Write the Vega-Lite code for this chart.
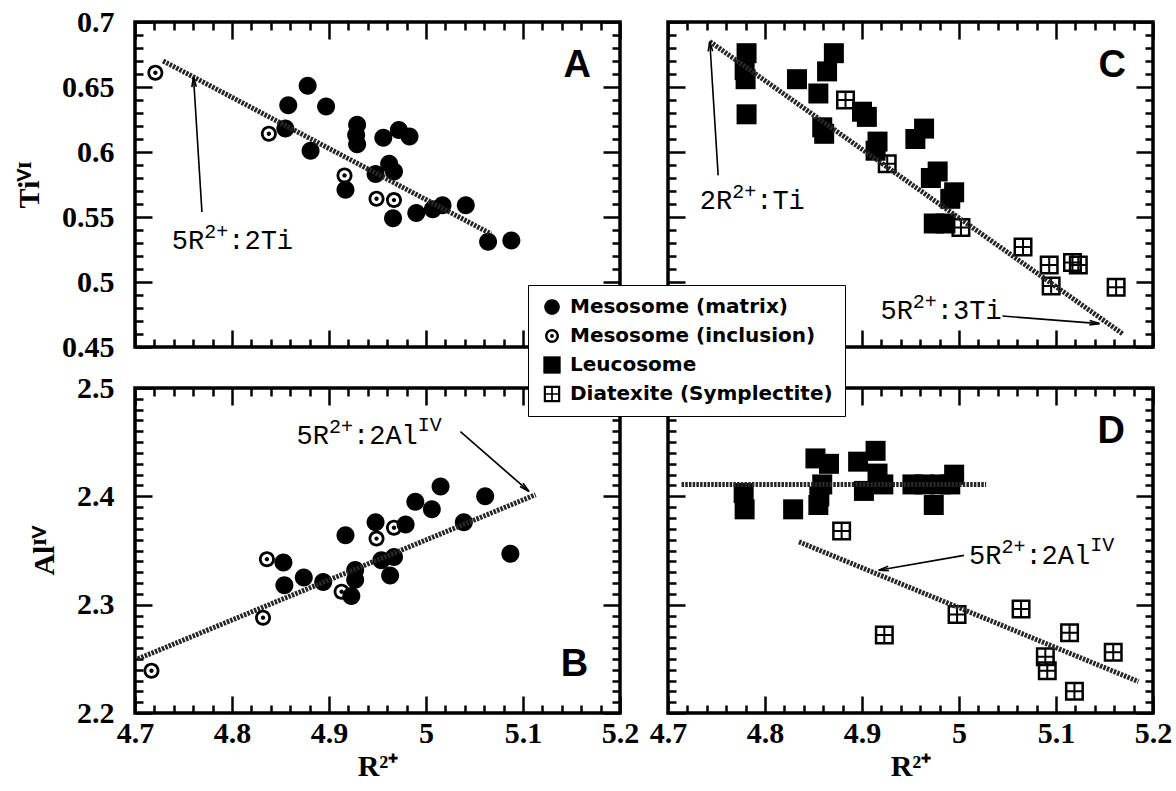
{
"$schema": "https://vega.github.io/schema/vega-lite/v6.json",
"background": "white",
"padding": {"left": 12, "top": 5, "right": 5, "bottom": 5},
"datasets": {
"pts": [
{"p":"A","t":"Mesosome (matrix)","x":4.878,"y":0.651},{"p":"A","t":"Mesosome (matrix)","x":4.858,"y":0.636},{"p":"A","t":"Mesosome (matrix)","x":4.897,"y":0.635},{"p":"A","t":"Mesosome (matrix)","x":4.855,"y":0.618},{"p":"A","t":"Mesosome (matrix)","x":4.929,"y":0.621},{"p":"A","t":"Mesosome (matrix)","x":4.928,"y":0.613},{"p":"A","t":"Mesosome (matrix)","x":4.929,"y":0.606},{"p":"A","t":"Mesosome (matrix)","x":4.956,"y":0.611},{"p":"A","t":"Mesosome (matrix)","x":4.972,"y":0.617},{"p":"A","t":"Mesosome (matrix)","x":4.983,"y":0.612},{"p":"A","t":"Mesosome (matrix)","x":4.881,"y":0.601},{"p":"A","t":"Mesosome (matrix)","x":4.962,"y":0.591},{"p":"A","t":"Mesosome (matrix)","x":4.967,"y":0.585},{"p":"A","t":"Mesosome (matrix)","x":4.948,"y":0.583},{"p":"A","t":"Mesosome (matrix)","x":4.917,"y":0.571},{"p":"A","t":"Mesosome (matrix)","x":4.966,"y":0.549},{"p":"A","t":"Mesosome (matrix)","x":4.990,"y":0.553},{"p":"A","t":"Mesosome (matrix)","x":5.007,"y":0.556},{"p":"A","t":"Mesosome (matrix)","x":5.017,"y":0.559},{"p":"A","t":"Mesosome (matrix)","x":5.041,"y":0.559},{"p":"A","t":"Mesosome (matrix)","x":5.064,"y":0.531},{"p":"A","t":"Mesosome (matrix)","x":5.088,"y":0.532},
{"p":"A","t":"Mesosome (inclusion)","x":4.721,"y":0.661},{"p":"A","t":"Mesosome (inclusion)","x":4.838,"y":0.614},{"p":"A","t":"Mesosome (inclusion)","x":4.916,"y":0.582},{"p":"A","t":"Mesosome (inclusion)","x":4.949,"y":0.564},{"p":"A","t":"Mesosome (inclusion)","x":4.967,"y":0.563},
{"p":"B","t":"Mesosome (matrix)","x":4.853,"y":2.339},{"p":"B","t":"Mesosome (matrix)","x":4.854,"y":2.318},{"p":"B","t":"Mesosome (matrix)","x":4.874,"y":2.325},{"p":"B","t":"Mesosome (matrix)","x":4.894,"y":2.321},{"p":"B","t":"Mesosome (matrix)","x":4.917,"y":2.364},{"p":"B","t":"Mesosome (matrix)","x":4.923,"y":2.308},{"p":"B","t":"Mesosome (matrix)","x":4.927,"y":2.332},{"p":"B","t":"Mesosome (matrix)","x":4.927,"y":2.323},{"p":"B","t":"Mesosome (matrix)","x":4.948,"y":2.376},{"p":"B","t":"Mesosome (matrix)","x":4.979,"y":2.374},{"p":"B","t":"Mesosome (matrix)","x":4.954,"y":2.341},{"p":"B","t":"Mesosome (matrix)","x":4.967,"y":2.344},{"p":"B","t":"Mesosome (matrix)","x":4.963,"y":2.327},{"p":"B","t":"Mesosome (matrix)","x":4.989,"y":2.395},{"p":"B","t":"Mesosome (matrix)","x":5.006,"y":2.388},{"p":"B","t":"Mesosome (matrix)","x":5.015,"y":2.409},{"p":"B","t":"Mesosome (matrix)","x":5.039,"y":2.376},{"p":"B","t":"Mesosome (matrix)","x":5.061,"y":2.400},{"p":"B","t":"Mesosome (matrix)","x":5.087,"y":2.347},
{"p":"B","t":"Mesosome (inclusion)","x":4.717,"y":2.239},{"p":"B","t":"Mesosome (inclusion)","x":4.836,"y":2.342},{"p":"B","t":"Mesosome (inclusion)","x":4.832,"y":2.288},{"p":"B","t":"Mesosome (inclusion)","x":4.913,"y":2.312},{"p":"B","t":"Mesosome (inclusion)","x":4.949,"y":2.361},{"p":"B","t":"Mesosome (inclusion)","x":4.967,"y":2.371},
{"p":"C","t":"Leucosome","x":4.781,"y":0.676},{"p":"C","t":"Leucosome","x":4.779,"y":0.663},{"p":"C","t":"Leucosome","x":4.780,"y":0.656},{"p":"C","t":"Leucosome","x":4.781,"y":0.629},{"p":"C","t":"Leucosome","x":4.833,"y":0.656},{"p":"C","t":"Leucosome","x":4.871,"y":0.676},{"p":"C","t":"Leucosome","x":4.864,"y":0.662},{"p":"C","t":"Leucosome","x":4.855,"y":0.645},{"p":"C","t":"Leucosome","x":4.859,"y":0.619},{"p":"C","t":"Leucosome","x":4.861,"y":0.614},{"p":"C","t":"Leucosome","x":4.900,"y":0.631},{"p":"C","t":"Leucosome","x":4.905,"y":0.627},{"p":"C","t":"Leucosome","x":4.916,"y":0.608},{"p":"C","t":"Leucosome","x":4.914,"y":0.601},{"p":"C","t":"Leucosome","x":4.964,"y":0.618},{"p":"C","t":"Leucosome","x":4.955,"y":0.610},{"p":"C","t":"Leucosome","x":4.978,"y":0.585},{"p":"C","t":"Leucosome","x":4.971,"y":0.580},{"p":"C","t":"Leucosome","x":4.995,"y":0.569},{"p":"C","t":"Leucosome","x":4.991,"y":0.564},{"p":"C","t":"Leucosome","x":4.974,"y":0.545},{"p":"C","t":"Leucosome","x":4.986,"y":0.545},
{"p":"C","t":"Diatexite (Symplectite)","x":4.883,"y":0.640},{"p":"C","t":"Diatexite (Symplectite)","x":4.926,"y":0.591},{"p":"C","t":"Diatexite (Symplectite)","x":5.002,"y":0.542},{"p":"C","t":"Diatexite (Symplectite)","x":5.066,"y":0.527},{"p":"C","t":"Diatexite (Symplectite)","x":5.093,"y":0.513},{"p":"C","t":"Diatexite (Symplectite)","x":5.095,"y":0.497},{"p":"C","t":"Diatexite (Symplectite)","x":5.117,"y":0.515},{"p":"C","t":"Diatexite (Symplectite)","x":5.123,"y":0.513},{"p":"C","t":"Diatexite (Symplectite)","x":5.162,"y":0.496},
{"p":"D","t":"Leucosome","x":4.778,"y":2.403},{"p":"D","t":"Leucosome","x":4.779,"y":2.388},{"p":"D","t":"Leucosome","x":4.829,"y":2.388},{"p":"D","t":"Leucosome","x":4.852,"y":2.435},{"p":"D","t":"Leucosome","x":4.866,"y":2.430},{"p":"D","t":"Leucosome","x":4.859,"y":2.411},{"p":"D","t":"Leucosome","x":4.856,"y":2.400},{"p":"D","t":"Leucosome","x":4.855,"y":2.392},{"p":"D","t":"Leucosome","x":4.896,"y":2.432},{"p":"D","t":"Leucosome","x":4.914,"y":2.442},{"p":"D","t":"Leucosome","x":4.902,"y":2.405},{"p":"D","t":"Leucosome","x":4.916,"y":2.421},{"p":"D","t":"Leucosome","x":4.922,"y":2.411},{"p":"D","t":"Leucosome","x":4.952,"y":2.411},{"p":"D","t":"Leucosome","x":4.964,"y":2.411},{"p":"D","t":"Leucosome","x":4.974,"y":2.392},{"p":"D","t":"Leucosome","x":4.995,"y":2.420},{"p":"D","t":"Leucosome","x":4.991,"y":2.411},{"p":"D","t":"Leucosome","x":4.981,"y":2.411},
{"p":"D","t":"Diatexite (Symplectite)","x":4.879,"y":2.368},{"p":"D","t":"Diatexite (Symplectite)","x":4.923,"y":2.272},{"p":"D","t":"Diatexite (Symplectite)","x":4.998,"y":2.291},{"p":"D","t":"Diatexite (Symplectite)","x":5.064,"y":2.296},{"p":"D","t":"Diatexite (Symplectite)","x":5.114,"y":2.274},{"p":"D","t":"Diatexite (Symplectite)","x":5.089,"y":2.252},{"p":"D","t":"Diatexite (Symplectite)","x":5.091,"y":2.239},{"p":"D","t":"Diatexite (Symplectite)","x":5.119,"y":2.220},{"p":"D","t":"Diatexite (Symplectite)","x":5.159,"y":2.256}
],
"lines": [
{"p":"A","id":"A","x":4.729,"y":0.670},{"p":"A","id":"A","x":5.067,"y":0.537},
{"p":"B","id":"B","x":4.703,"y":2.250},{"p":"B","id":"B","x":5.113,"y":2.4015},
{"p":"C","id":"C","x":4.743,"y":0.685},{"p":"C","id":"C","x":5.169,"y":0.460},
{"p":"D","id":"D1","x":4.714,"y":2.411},{"p":"D","id":"D1","x":5.028,"y":2.411},
{"p":"D","id":"D2","x":4.835,"y":2.358},{"p":"D","id":"D2","x":5.185,"y":2.229}
],
"arrows": [
{"p":"A","id":"A","x":4.769,"y":0.5538,"x2":4.7603,"y2":0.6577},
{"p":"C","id":"C1","x":4.7517,"y":0.582,"x2":4.7431,"y2":0.6851},
{"p":"C","id":"C2","x":5.0448,"y":0.4738,"x2":5.1448,"y2":0.468},
{"p":"B","id":"B","x":5.0355,"y":2.4597,"x2":5.1062,"y2":2.4045},
{"p":"D","id":"D","x":5.0052,"y":2.3455,"x2":4.9172,"y2":2.3318}
],
"notes": [
{"p":"A","x":4.738,"y":0.5256,"pre":"5R","sup":"2+","mid":":2Ti","sup2":""},
{"p":"C","x":4.7328,"y":0.5564,"pre":"2R","sup":"2+","mid":":Ti","sup2":""},
{"p":"C","x":4.919,"y":0.4718,"pre":"5R","sup":"2+","mid":":3Ti","sup2":""},
{"p":"B","x":4.8666,"y":2.4485,"pre":"5R","sup":"2+","mid":":2Al","sup2":"IV"},
{"p":"D","x":5.0103,"y":2.3379,"pre":"5R","sup":"2+","mid":":2Al","sup2":"IV"}
],
"letters": [
{"p":"A","x":5.156,"y":0.666,"label":"A"},
{"p":"C","x":5.158,"y":0.666,"label":"C"},
{"p":"B","x":5.153,"y":2.244,"label":"B"},
{"p":"D","x":5.157,"y":2.459,"label":"D"}
]
},
"columns": 2,
"spacing": {"row": 41, "column": 48},
"bounds": "flush",
"concat": [
{
"width": 485, "height": 325,
"resolve": {"axis": {"x": "independent", "y": "independent"}},
"layer": [
{"data": {"name": "pts"}, "transform": [{"filter": "datum.p === 'A'"}],
 "mark": {"type": "point", "filled": true, "fill": "black", "strokeWidth": 0, "size": 400, "opacity": 1},
 "encoding": {
  "x": {"field": "x", "type": "quantitative", "scale": {"domain": [4.7, 5.2], "nice": false, "zero": false},
   "axis": {"orient": "bottom", "title": null, "labels": false, "values": [4.7,4.8,4.9,5,5.1,5.2], "grid": true, "gridDash": [17, 291, 17, 1000]}},
  "y": {"field": "y", "type": "quantitative", "scale": {"domain": [0.45, 0.7], "nice": false, "zero": false},
   "axis": {"orient": "left", "title": "Tiⱽᴵ", "values": [0.45,0.5,0.55,0.6,0.65,0.7], "format": "~g", "grid": true, "gridDash": [17, 451, 17, 1000], "labelPadding": 21, "titlePadding": 17}},
  "shape": {"field": "t", "type": "nominal", "scale": {"domain": ["Mesosome (matrix)","Mesosome (inclusion)","Leucosome","Diatexite (Symplectite)"], "range": ["M0,-0.9A0.9,0.9 0 1,1 0,0.9A0.9,0.9 0 1,1 0,-0.9Z","M0,-0.8A0.8,0.8 0 1,1 0,0.8A0.8,0.8 0 1,1 0,-0.8Z M0,-0.52A0.52,0.52 0 1,0 0,0.52A0.52,0.52 0 1,0 0,-0.52Z M0,-0.22A0.22,0.22 0 1,1 0,0.22A0.22,0.22 0 1,1 0,-0.22Z","M-1,-1H1V1H-1Z","M-0.95,-0.95H0.95V0.95H-0.95Z M-0.7,-0.7V-0.1H-0.1V-0.7Z M0.1,-0.7V-0.1H0.7V-0.7Z M-0.7,0.1V0.7H-0.1V0.1Z M0.1,0.1V0.7H0.7V0.1Z"]},
   "legend": {"title": null, "orient": "none", "legendX": 393, "legendY": 263}}
 }},
{"data": {"name": "lines"}, "transform": [{"filter": "datum.p === 'A'"}],
 "mark": {"type": "line", "color": "#262626", "strokeWidth": 5, "strokeDash": [2.5, 1.2]},
 "encoding": {"x": {"field": "x", "type": "quantitative", "axis": null}, "y": {"field": "y", "type": "quantitative", "axis": null}, "detail": {"field": "id"}}},
{"data": {"name": "arrows"}, "transform": [{"filter": "datum.p === 'A'"}],
 "mark": {"type": "rule", "color": "black", "strokeWidth": 1.6},
 "encoding": {
  "x": {"field": "x", "type": "quantitative", "axis": {"orient": "bottom", "title": null, "labels": false, "values": [4.72,4.74,4.76,4.78,4.82,4.84,4.86,4.88,4.92,4.94,4.96,4.98,5.02,5.04,5.06,5.08,5.12,5.14,5.16,5.18], "grid": true, "gridDash": [8, 309, 8, 1000]}},
  "y": {"field": "y", "type": "quantitative", "axis": {"orient": "left", "title": null, "labels": false, "values": [0.46,0.47,0.48,0.49,0.51,0.52,0.53,0.54,0.56,0.57,0.58,0.59,0.61,0.62,0.63,0.64,0.66,0.67,0.68,0.69], "grid": true, "gridDash": [8, 469, 8, 1000]}},
  "x2": {"field": "x2"}, "y2": {"field": "y2"}}},
{"data": {"name": "arrows"}, "transform": [{"filter": "datum.id === 'A'"}],
 "mark": {"type": "point", "shape": "M-0.45,2L0,0L0.45,2", "filled": false, "stroke": "black", "strokeWidth": 1.6, "size": 100, "angle": 356.5, "opacity": 1},
 "encoding": {"x": {"field": "x2", "type": "quantitative", "axis": null}, "y": {"field": "y2", "type": "quantitative", "axis": null}}},
{"data": {"name": "notes"}, "transform": [{"filter": "datum.p === 'A'"}],
 "mark": {"type": "text", "font": "Liberation Mono", "fontSize": 27, "align": "left", "baseline": "alphabetic", "color": "black"},
 "encoding": {"x": {"field": "x", "type": "quantitative", "axis": null}, "y": {"field": "y", "type": "quantitative", "axis": null}, "text": {"field": "pre"}}},
{"data": {"name": "notes"}, "transform": [{"filter": "datum.p === 'A'"}],
 "mark": {"type": "text", "font": "Liberation Mono", "fontSize": 20, "align": "left", "baseline": "alphabetic", "color": "black", "dx": 32.4, "dy": -11},
 "encoding": {"x": {"field": "x", "type": "quantitative", "axis": null}, "y": {"field": "y", "type": "quantitative", "axis": null}, "text": {"field": "sup"}}},
{"data": {"name": "notes"}, "transform": [{"filter": "datum.p === 'A'"}],
 "mark": {"type": "text", "font": "Liberation Mono", "fontSize": 27, "align": "left", "baseline": "alphabetic", "color": "black", "dx": 56.4},
 "encoding": {"x": {"field": "x", "type": "quantitative", "axis": null}, "y": {"field": "y", "type": "quantitative", "axis": null}, "text": {"field": "mid"}}},
{"data": {"name": "letters"}, "transform": [{"filter": "datum.p === 'A'"}],
 "mark": {"type": "text", "font": "Liberation Sans", "fontWeight": "bold", "fontSize": 38, "align": "center", "baseline": "middle", "color": "black"},
 "encoding": {"x": {"field": "x", "type": "quantitative", "axis": null}, "y": {"field": "y", "type": "quantitative", "axis": null}, "text": {"field": "label"}}}
]
},
{
"width": 485, "height": 325,
"resolve": {"axis": {"x": "independent", "y": "independent"}},
"layer": [
{"data": {"name": "pts"}, "transform": [{"filter": "datum.p === 'C'"}],
 "mark": {"type": "point", "filled": true, "fill": "black", "strokeWidth": 0, "size": 400, "opacity": 1},
 "encoding": {
  "x": {"field": "x", "type": "quantitative", "scale": {"domain": [4.7, 5.2], "nice": false, "zero": false},
   "axis": {"orient": "bottom", "title": null, "labels": false, "values": [4.7,4.8,4.9,5,5.1,5.2], "grid": true, "gridDash": [17, 291, 17, 1000]}},
  "y": {"field": "y", "type": "quantitative", "scale": {"domain": [0.45, 0.7], "nice": false, "zero": false},
   "axis": {"orient": "left", "title": null, "labels": false, "values": [0.45,0.5,0.55,0.6,0.65,0.7], "grid": true, "gridDash": [17, 451, 17, 1000]}},
  "shape": {"field": "t", "type": "nominal", "scale": {"domain": ["Mesosome (matrix)","Mesosome (inclusion)","Leucosome","Diatexite (Symplectite)"], "range": ["M0,-0.9A0.9,0.9 0 1,1 0,0.9A0.9,0.9 0 1,1 0,-0.9Z","M0,-0.8A0.8,0.8 0 1,1 0,0.8A0.8,0.8 0 1,1 0,-0.8Z M0,-0.52A0.52,0.52 0 1,0 0,0.52A0.52,0.52 0 1,0 0,-0.52Z M0,-0.22A0.22,0.22 0 1,1 0,0.22A0.22,0.22 0 1,1 0,-0.22Z","M-1,-1H1V1H-1Z","M-0.95,-0.95H0.95V0.95H-0.95Z M-0.7,-0.7V-0.1H-0.1V-0.7Z M0.1,-0.7V-0.1H0.7V-0.7Z M-0.7,0.1V0.7H-0.1V0.1Z M0.1,0.1V0.7H0.7V0.1Z"]},
   "legend": {"title": null, "orient": "none", "legendX": 393, "legendY": 263}}
 }},
{"data": {"name": "lines"}, "transform": [{"filter": "datum.p === 'C'"}],
 "mark": {"type": "line", "color": "#262626", "strokeWidth": 5, "strokeDash": [2.5, 1.2]},
 "encoding": {"x": {"field": "x", "type": "quantitative", "axis": null}, "y": {"field": "y", "type": "quantitative", "axis": null}, "detail": {"field": "id"}}},
{"data": {"name": "arrows"}, "transform": [{"filter": "datum.p === 'C'"}],
 "mark": {"type": "rule", "color": "black", "strokeWidth": 1.6},
 "encoding": {
  "x": {"field": "x", "type": "quantitative", "axis": {"orient": "bottom", "title": null, "labels": false, "values": [4.72,4.74,4.76,4.78,4.82,4.84,4.86,4.88,4.92,4.94,4.96,4.98,5.02,5.04,5.06,5.08,5.12,5.14,5.16,5.18], "grid": true, "gridDash": [8, 309, 8, 1000]}},
  "y": {"field": "y", "type": "quantitative", "axis": {"orient": "left", "title": null, "labels": false, "values": [0.46,0.47,0.48,0.49,0.51,0.52,0.53,0.54,0.56,0.57,0.58,0.59,0.61,0.62,0.63,0.64,0.66,0.67,0.68,0.69], "grid": true, "gridDash": [8, 469, 8, 1000]}},
  "x2": {"field": "x2"}, "y2": {"field": "y2"}}},
{"data": {"name": "arrows"}, "transform": [{"filter": "datum.id === 'C1'"}],
 "mark": {"type": "point", "shape": "M-0.45,2L0,0L0.45,2", "filled": false, "stroke": "black", "strokeWidth": 1.6, "size": 100, "angle": 356.5, "opacity": 1},
 "encoding": {"x": {"field": "x2", "type": "quantitative", "axis": null}, "y": {"field": "y2", "type": "quantitative", "axis": null}}},
{"data": {"name": "arrows"}, "transform": [{"filter": "datum.id === 'C2'"}],
 "mark": {"type": "point", "shape": "M-0.45,2L0,0L0.45,2", "filled": false, "stroke": "black", "strokeWidth": 1.6, "size": 100, "angle": 94.5, "opacity": 1},
 "encoding": {"x": {"field": "x2", "type": "quantitative", "axis": null}, "y": {"field": "y2", "type": "quantitative", "axis": null}}},
{"data": {"name": "notes"}, "transform": [{"filter": "datum.p === 'C'"}],
 "mark": {"type": "text", "font": "Liberation Mono", "fontSize": 27, "align": "left", "baseline": "alphabetic", "color": "black"},
 "encoding": {"x": {"field": "x", "type": "quantitative", "axis": null}, "y": {"field": "y", "type": "quantitative", "axis": null}, "text": {"field": "pre"}}},
{"data": {"name": "notes"}, "transform": [{"filter": "datum.p === 'C'"}],
 "mark": {"type": "text", "font": "Liberation Mono", "fontSize": 20, "align": "left", "baseline": "alphabetic", "color": "black", "dx": 32.4, "dy": -11},
 "encoding": {"x": {"field": "x", "type": "quantitative", "axis": null}, "y": {"field": "y", "type": "quantitative", "axis": null}, "text": {"field": "sup"}}},
{"data": {"name": "notes"}, "transform": [{"filter": "datum.p === 'C'"}],
 "mark": {"type": "text", "font": "Liberation Mono", "fontSize": 27, "align": "left", "baseline": "alphabetic", "color": "black", "dx": 56.4},
 "encoding": {"x": {"field": "x", "type": "quantitative", "axis": null}, "y": {"field": "y", "type": "quantitative", "axis": null}, "text": {"field": "mid"}}},
{"data": {"name": "letters"}, "transform": [{"filter": "datum.p === 'C'"}],
 "mark": {"type": "text", "font": "Liberation Sans", "fontWeight": "bold", "fontSize": 38, "align": "center", "baseline": "middle", "color": "black"},
 "encoding": {"x": {"field": "x", "type": "quantitative", "axis": null}, "y": {"field": "y", "type": "quantitative", "axis": null}, "text": {"field": "label"}}}
]
},
{
"width": 485, "height": 325,
"resolve": {"axis": {"x": "independent", "y": "independent"}},
"layer": [
{"data": {"name": "pts"}, "transform": [{"filter": "datum.p === 'B'"}],
 "mark": {"type": "point", "filled": true, "fill": "black", "strokeWidth": 0, "size": 400, "opacity": 1},
 "encoding": {
  "x": {"field": "x", "type": "quantitative", "scale": {"domain": [4.7, 5.2], "nice": false, "zero": false},
   "axis": {"orient": "bottom", "title": "R²⁺", "values": [4.7,4.8,4.9,5,5.1,5.2], "format": "~g", "grid": true, "gridDash": [17, 291, 17, 1000], "labelPadding": 5, "titlePadding": 3}},
  "y": {"field": "y", "type": "quantitative", "scale": {"domain": [2.2, 2.5], "nice": false, "zero": false},
   "axis": {"orient": "left", "title": "Alᴵⱽ", "values": [2.2,2.3,2.4,2.5], "format": "~g", "grid": true, "gridDash": [17, 451, 17, 1000], "labelPadding": 21, "titlePadding": 17}},
  "shape": {"field": "t", "type": "nominal", "scale": {"domain": ["Mesosome (matrix)","Mesosome (inclusion)","Leucosome","Diatexite (Symplectite)"], "range": ["M0,-0.9A0.9,0.9 0 1,1 0,0.9A0.9,0.9 0 1,1 0,-0.9Z","M0,-0.8A0.8,0.8 0 1,1 0,0.8A0.8,0.8 0 1,1 0,-0.8Z M0,-0.52A0.52,0.52 0 1,0 0,0.52A0.52,0.52 0 1,0 0,-0.52Z M0,-0.22A0.22,0.22 0 1,1 0,0.22A0.22,0.22 0 1,1 0,-0.22Z","M-1,-1H1V1H-1Z","M-0.95,-0.95H0.95V0.95H-0.95Z M-0.7,-0.7V-0.1H-0.1V-0.7Z M0.1,-0.7V-0.1H0.7V-0.7Z M-0.7,0.1V0.7H-0.1V0.1Z M0.1,0.1V0.7H0.7V0.1Z"]},
   "legend": {"title": null, "orient": "none", "legendX": 393, "legendY": 263}}
 }},
{"data": {"name": "lines"}, "transform": [{"filter": "datum.p === 'B'"}],
 "mark": {"type": "line", "color": "#262626", "strokeWidth": 5, "strokeDash": [2.5, 1.2]},
 "encoding": {"x": {"field": "x", "type": "quantitative", "axis": null}, "y": {"field": "y", "type": "quantitative", "axis": null}, "detail": {"field": "id"}}},
{"data": {"name": "arrows"}, "transform": [{"filter": "datum.p === 'B'"}],
 "mark": {"type": "rule", "color": "black", "strokeWidth": 1.6},
 "encoding": {
  "x": {"field": "x", "type": "quantitative", "axis": {"orient": "bottom", "title": null, "labels": false, "values": [4.72,4.74,4.76,4.78,4.82,4.84,4.86,4.88,4.92,4.94,4.96,4.98,5.02,5.04,5.06,5.08,5.12,5.14,5.16,5.18], "grid": true, "gridDash": [8, 309, 8, 1000]}},
  "y": {"field": "y", "type": "quantitative", "axis": {"orient": "left", "title": null, "labels": false, "values": [2.21,2.22,2.23,2.24,2.25,2.26,2.27,2.28,2.29,2.31,2.32,2.33,2.34,2.35,2.36,2.37,2.38,2.39,2.41,2.42,2.43,2.44,2.45,2.46,2.47,2.48,2.49], "grid": true, "gridDash": [8, 469, 8, 1000]}},
  "x2": {"field": "x2"}, "y2": {"field": "y2"}}},
{"data": {"name": "arrows"}, "transform": [{"filter": "datum.id === 'B'"}],
 "mark": {"type": "point", "shape": "M-0.45,2L0,0L0.45,2", "filled": false, "stroke": "black", "strokeWidth": 1.6, "size": 100, "angle": 131.6, "opacity": 1},
 "encoding": {"x": {"field": "x2", "type": "quantitative", "axis": null}, "y": {"field": "y2", "type": "quantitative", "axis": null}}},
{"data": {"name": "notes"}, "transform": [{"filter": "datum.p === 'B'"}],
 "mark": {"type": "text", "font": "Liberation Mono", "fontSize": 27, "align": "left", "baseline": "alphabetic", "color": "black"},
 "encoding": {"x": {"field": "x", "type": "quantitative", "axis": null}, "y": {"field": "y", "type": "quantitative", "axis": null}, "text": {"field": "pre"}}},
{"data": {"name": "notes"}, "transform": [{"filter": "datum.p === 'B'"}],
 "mark": {"type": "text", "font": "Liberation Mono", "fontSize": 20, "align": "left", "baseline": "alphabetic", "color": "black", "dx": 32.4, "dy": -11},
 "encoding": {"x": {"field": "x", "type": "quantitative", "axis": null}, "y": {"field": "y", "type": "quantitative", "axis": null}, "text": {"field": "sup"}}},
{"data": {"name": "notes"}, "transform": [{"filter": "datum.p === 'B'"}],
 "mark": {"type": "text", "font": "Liberation Mono", "fontSize": 27, "align": "left", "baseline": "alphabetic", "color": "black", "dx": 56.4},
 "encoding": {"x": {"field": "x", "type": "quantitative", "axis": null}, "y": {"field": "y", "type": "quantitative", "axis": null}, "text": {"field": "mid"}}},
{"data": {"name": "notes"}, "transform": [{"filter": "datum.p === 'B'"}],
 "mark": {"type": "text", "font": "Liberation Mono", "fontSize": 20, "align": "left", "baseline": "alphabetic", "color": "black", "dx": 121.2, "dy": -13},
 "encoding": {"x": {"field": "x", "type": "quantitative", "axis": null}, "y": {"field": "y", "type": "quantitative", "axis": null}, "text": {"field": "sup2"}}},
{"data": {"name": "letters"}, "transform": [{"filter": "datum.p === 'B'"}],
 "mark": {"type": "text", "font": "Liberation Sans", "fontWeight": "bold", "fontSize": 38, "align": "center", "baseline": "middle", "color": "black"},
 "encoding": {"x": {"field": "x", "type": "quantitative", "axis": null}, "y": {"field": "y", "type": "quantitative", "axis": null}, "text": {"field": "label"}}}
]
},
{
"width": 485, "height": 325,
"resolve": {"axis": {"x": "independent", "y": "independent"}},
"layer": [
{"data": {"name": "pts"}, "transform": [{"filter": "datum.p === 'D'"}],
 "mark": {"type": "point", "filled": true, "fill": "black", "strokeWidth": 0, "size": 400, "opacity": 1},
 "encoding": {
  "x": {"field": "x", "type": "quantitative", "scale": {"domain": [4.7, 5.2], "nice": false, "zero": false},
   "axis": {"orient": "bottom", "title": "R²⁺", "values": [4.7,4.8,4.9,5,5.1,5.2], "format": "~g", "grid": true, "gridDash": [17, 291, 17, 1000], "labelPadding": 5, "titlePadding": 3}},
  "y": {"field": "y", "type": "quantitative", "scale": {"domain": [2.2, 2.5], "nice": false, "zero": false},
   "axis": {"orient": "left", "title": null, "labels": false, "values": [2.2,2.3,2.4,2.5], "grid": true, "gridDash": [17, 451, 17, 1000]}},
  "shape": {"field": "t", "type": "nominal", "scale": {"domain": ["Mesosome (matrix)","Mesosome (inclusion)","Leucosome","Diatexite (Symplectite)"], "range": ["M0,-0.9A0.9,0.9 0 1,1 0,0.9A0.9,0.9 0 1,1 0,-0.9Z","M0,-0.8A0.8,0.8 0 1,1 0,0.8A0.8,0.8 0 1,1 0,-0.8Z M0,-0.52A0.52,0.52 0 1,0 0,0.52A0.52,0.52 0 1,0 0,-0.52Z M0,-0.22A0.22,0.22 0 1,1 0,0.22A0.22,0.22 0 1,1 0,-0.22Z","M-1,-1H1V1H-1Z","M-0.95,-0.95H0.95V0.95H-0.95Z M-0.7,-0.7V-0.1H-0.1V-0.7Z M0.1,-0.7V-0.1H0.7V-0.7Z M-0.7,0.1V0.7H-0.1V0.1Z M0.1,0.1V0.7H0.7V0.1Z"]},
   "legend": {"title": null, "orient": "none", "legendX": 393, "legendY": 263}}
 }},
{"data": {"name": "lines"}, "transform": [{"filter": "datum.p === 'D'"}],
 "mark": {"type": "line", "color": "#262626", "strokeWidth": 5, "strokeDash": [2.5, 1.2]},
 "encoding": {"x": {"field": "x", "type": "quantitative", "axis": null}, "y": {"field": "y", "type": "quantitative", "axis": null}, "detail": {"field": "id"}}},
{"data": {"name": "arrows"}, "transform": [{"filter": "datum.p === 'D'"}],
 "mark": {"type": "rule", "color": "black", "strokeWidth": 1.6},
 "encoding": {
  "x": {"field": "x", "type": "quantitative", "axis": {"orient": "bottom", "title": null, "labels": false, "values": [4.72,4.74,4.76,4.78,4.82,4.84,4.86,4.88,4.92,4.94,4.96,4.98,5.02,5.04,5.06,5.08,5.12,5.14,5.16,5.18], "grid": true, "gridDash": [8, 309, 8, 1000]}},
  "y": {"field": "y", "type": "quantitative", "axis": {"orient": "left", "title": null, "labels": false, "values": [2.21,2.22,2.23,2.24,2.25,2.26,2.27,2.28,2.29,2.31,2.32,2.33,2.34,2.35,2.36,2.37,2.38,2.39,2.41,2.42,2.43,2.44,2.45,2.46,2.47,2.48,2.49], "grid": true, "gridDash": [8, 469, 8, 1000]}},
  "x2": {"field": "x2"}, "y2": {"field": "y2"}}},
{"data": {"name": "arrows"}, "transform": [{"filter": "datum.id === 'D'"}],
 "mark": {"type": "point", "shape": "M-0.45,2L0,0L0.45,2", "filled": false, "stroke": "black", "strokeWidth": 1.6, "size": 100, "angle": 260, "opacity": 1},
 "encoding": {"x": {"field": "x2", "type": "quantitative", "axis": null}, "y": {"field": "y2", "type": "quantitative", "axis": null}}},
{"data": {"name": "notes"}, "transform": [{"filter": "datum.p === 'D'"}],
 "mark": {"type": "text", "font": "Liberation Mono", "fontSize": 27, "align": "left", "baseline": "alphabetic", "color": "black"},
 "encoding": {"x": {"field": "x", "type": "quantitative", "axis": null}, "y": {"field": "y", "type": "quantitative", "axis": null}, "text": {"field": "pre"}}},
{"data": {"name": "notes"}, "transform": [{"filter": "datum.p === 'D'"}],
 "mark": {"type": "text", "font": "Liberation Mono", "fontSize": 20, "align": "left", "baseline": "alphabetic", "color": "black", "dx": 32.4, "dy": -11},
 "encoding": {"x": {"field": "x", "type": "quantitative", "axis": null}, "y": {"field": "y", "type": "quantitative", "axis": null}, "text": {"field": "sup"}}},
{"data": {"name": "notes"}, "transform": [{"filter": "datum.p === 'D'"}],
 "mark": {"type": "text", "font": "Liberation Mono", "fontSize": 27, "align": "left", "baseline": "alphabetic", "color": "black", "dx": 56.4},
 "encoding": {"x": {"field": "x", "type": "quantitative", "axis": null}, "y": {"field": "y", "type": "quantitative", "axis": null}, "text": {"field": "mid"}}},
{"data": {"name": "notes"}, "transform": [{"filter": "datum.p === 'D'"}],
 "mark": {"type": "text", "font": "Liberation Mono", "fontSize": 20, "align": "left", "baseline": "alphabetic", "color": "black", "dx": 121.2, "dy": -13},
 "encoding": {"x": {"field": "x", "type": "quantitative", "axis": null}, "y": {"field": "y", "type": "quantitative", "axis": null}, "text": {"field": "sup2"}}},
{"data": {"name": "letters"}, "transform": [{"filter": "datum.p === 'D'"}],
 "mark": {"type": "text", "font": "Liberation Sans", "fontWeight": "bold", "fontSize": 38, "align": "center", "baseline": "middle", "color": "black"},
 "encoding": {"x": {"field": "x", "type": "quantitative", "axis": null}, "y": {"field": "y", "type": "quantitative", "axis": null}, "text": {"field": "label"}}}
]
}
],
"config": {
 "view": {"stroke": "black", "strokeWidth": 3.5},
 "axis": {"domain": false, "ticks": false, "gridColor": "black", "gridWidth": 2.5, "gridOpacity": 1, "gridCap": "butt", "labelColor": "black", "titleColor": "black",
  "labelFont": "Liberation Serif", "labelFontWeight": "bold", "labelFontSize": 30, "labelOverlap": false, "labelFlush": false,
  "titleFont": "Liberation Serif", "titleFontWeight": "bold", "titleFontSize": 30},
 "legend": {"fillColor": "white", "strokeColor": "black", "padding": 12, "symbolSize": 300, "symbolFillColor": "black", "symbolStrokeWidth": 0, "labelLimit": 0,
  "labelFont": "DejaVu Sans", "labelFontWeight": "bold", "labelFontSize": 20, "labelColor": "black", "labelOffset": 8, "rowPadding": 9, "symbolOffset": 2}
}
}
